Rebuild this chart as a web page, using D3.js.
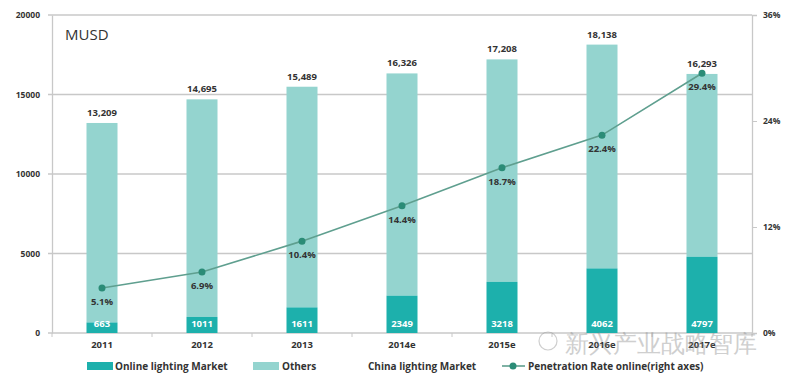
<!DOCTYPE html>
<html>
<head>
<meta charset="utf-8">
<script src="https://cdn.jsdelivr.net/npm/d3@7"></script>
<style>
  body { margin: 0; background: #fff; }
  text { font-family: "Open Sans", "DejaVu Sans", sans-serif; }
</style>
</head>
<body>
<div id="chart"></div>
<script>
const years = ["2011", "2012", "2013", "2014e", "2015e", "2016e", "2017e"];
const totalMarket = [13209, 14695, 15489, 16326, 17208, 18138, 16293];
const onlineMarket = [663, 1011, 1611, 2349, 3218, 4062, 4797];
const penetration = [5.1, 6.9, 10.4, 14.4, 18.7, 22.4, 29.4];
const leftTicks = [0, 5000, 10000, 15000, 20000];
const rightTicks = [0, 12, 24, 36];

const W = 792, H = 377;
const margin = { top: 15, right: 40, bottom: 44, left: 52 };
const width = W - margin.left - margin.right,
  height = H - margin.top - margin.bottom;

const darkTeal = "#1db0ac";
const lightTeal = "#94d4cf";
const lineColor = "#5f9f8f";
const dotColor = "#2b8c77";
const fs = 9.5;

const svg = d3.select("#chart").append("svg")
  .attr("width", W).attr("height", H);
const g = svg.append("g").attr("transform", `translate(${margin.left},${margin.top})`);

const x = d3.scaleBand().domain(years).range([0, width]).paddingInner(0.69).paddingOuter(0.345);
const y = d3.scaleLinear().domain([0, 20000]).range([height, 0]);
const yR = d3.scaleLinear().domain([0, 36]).range([height, 0]);

// gridlines
g.append("g").selectAll("line").data(leftTicks).join("line")
  .attr("x1", -4).attr("x2", width)
  .attr("y1", d => y(d)).attr("y2", d => y(d))
  .attr("stroke", "#c8c8c8").attr("stroke-width", 1.3);

// left axis
const yAxis = g.append("g")
  .call(d3.axisLeft(y).tickValues(leftTicks).tickSize(0).tickPadding(12).tickFormat(d3.format("d")));
yAxis.select(".domain").attr("stroke", "#c8c8c8").attr("stroke-width", 1.3);
yAxis.selectAll("text").attr("font-size", 8.5).attr("font-weight", "bold").attr("fill", "#333");

// right axis
const yAxisR = g.append("g").attr("transform", `translate(${width},0)`)
  .call(d3.axisRight(yR).tickValues(rightTicks).tickSize(5).tickPadding(6).tickFormat(d => d + "%"));
yAxisR.select(".domain").attr("stroke", "#c8c8c8").attr("stroke-width", 1.3);
yAxisR.selectAll(".tick line").attr("stroke", "#c8c8c8");
yAxisR.selectAll("text").attr("font-size", 8.5).attr("font-weight", "bold").attr("fill", "#333");

// bottom axis
const step = x.step();
g.append("g").selectAll("line").data(d3.range(years.length + 1)).join("line")
  .attr("x1", i => i * step).attr("x2", i => i * step)
  .attr("y1", height).attr("y2", height + 4)
  .attr("stroke", "#c8c8c8");
g.append("g").selectAll("text").data(years).join("text")
  .attr("x", d => x(d) + x.bandwidth() / 2).attr("y", height + 15)
  .attr("text-anchor", "middle").attr("font-size", fs).attr("font-weight", "bold")
  .attr("fill", "#333").text(d => d);

// bars: others on top of online
const data = years.map((yr, i) => ({ yr, total: totalMarket[i], online: onlineMarket[i], pen: penetration[i] }));

g.append("g").selectAll("rect").data(data).join("rect")
  .attr("x", d => x(d.yr)).attr("width", x.bandwidth())
  .attr("y", d => y(d.total)).attr("height", d => y(d.online) - y(d.total))
  .attr("fill", lightTeal);
g.append("g").selectAll("rect").data(data).join("rect")
  .attr("x", d => x(d.yr)).attr("width", x.bandwidth())
  .attr("y", d => y(d.online)).attr("height", d => height - y(d.online))
  .attr("fill", darkTeal);

// labels
g.append("g").selectAll("text").data(data).join("text")
  .attr("x", d => x(d.yr) + x.bandwidth() / 2).attr("y", d => y(d.total) - 7)
  .attr("text-anchor", "middle").attr("font-size", fs).attr("font-weight", "bold")
  .attr("fill", "#333").text(d => d3.format(",")(d.total));
g.append("g").selectAll("text").data(data).join("text")
  .attr("x", d => x(d.yr) + x.bandwidth() / 2).attr("y", height - 6)
  .attr("text-anchor", "middle").attr("font-size", fs).attr("font-weight", "bold")
  .attr("fill", "#fff").text(d => d.online);

// penetration line
const line = d3.line().x(d => x(d.yr) + x.bandwidth() / 2).y(d => yR(d.pen));
g.append("path").datum(data).attr("d", line)
  .attr("fill", "none").attr("stroke", lineColor).attr("stroke-width", 1.6);
g.append("g").selectAll("circle").data(data).join("circle")
  .attr("cx", d => x(d.yr) + x.bandwidth() / 2).attr("cy", d => yR(d.pen))
  .attr("r", 3.5).attr("fill", dotColor);
g.append("g").selectAll("text").data(data).join("text")
  .attr("x", d => x(d.yr) + x.bandwidth() / 2).attr("y", d => yR(d.pen) + 17)
  .attr("text-anchor", "middle").attr("font-size", fs).attr("font-weight", "bold")
  .attr("fill", "#333").text(d => d.pen + "%");

// unit title
g.append("text").attr("x", 13).attr("y", 25).attr("font-size", 15)
  .attr("fill", "#333").text("MUSD");

// legend
const lg = svg.append("g").attr("transform", "translate(0,366)");
lg.append("rect").attr("x", 87).attr("y", -4).attr("width", 26).attr("height", 8).attr("fill", darkTeal);
lg.append("text").attr("x", 115).attr("y", 3.5).attr("font-size", 10).attr("font-weight", "bold")
  .attr("fill", "#333").text("Online lighting Market");
lg.append("rect").attr("x", 253).attr("y", -4).attr("width", 26).attr("height", 8).attr("fill", lightTeal);
lg.append("text").attr("x", 282).attr("y", 3.5).attr("font-size", 10).attr("font-weight", "bold")
  .attr("fill", "#333").text("Others");
lg.append("text").attr("x", 368).attr("y", 3.5).attr("font-size", 10).attr("font-weight", "bold")
  .attr("fill", "#333").text("China lighting Market");
lg.append("line").attr("x1", 502).attr("x2", 525).attr("y1", 0).attr("y2", 0)
  .attr("stroke", lineColor).attr("stroke-width", 1.6);
lg.append("circle").attr("cx", 513).attr("cy", 0).attr("r", 3.5).attr("fill", dotColor);
lg.append("text").attr("x", 528).attr("y", 3.5).attr("font-size", 10).attr("font-weight", "bold")
  .attr("fill", "#333").text("Penetration  Rate online(right axes)");

// watermark (overlaps the axis labels as in the source image)
const wm = svg.append("g").attr("opacity", 0.4);
wm.append("circle").attr("cx", 548).attr("cy", 341).attr("r", 9)
  .attr("fill", "none").attr("stroke", "#888").attr("stroke-width", 1.2);
wm.append("text").attr("x", 565).attr("y", 352).attr("font-size", 24)
  .attr("font-family", "Noto Sans CJK SC").attr("fill", "#888").text("新兴产业战略智库");
</script>
</body>
</html>
